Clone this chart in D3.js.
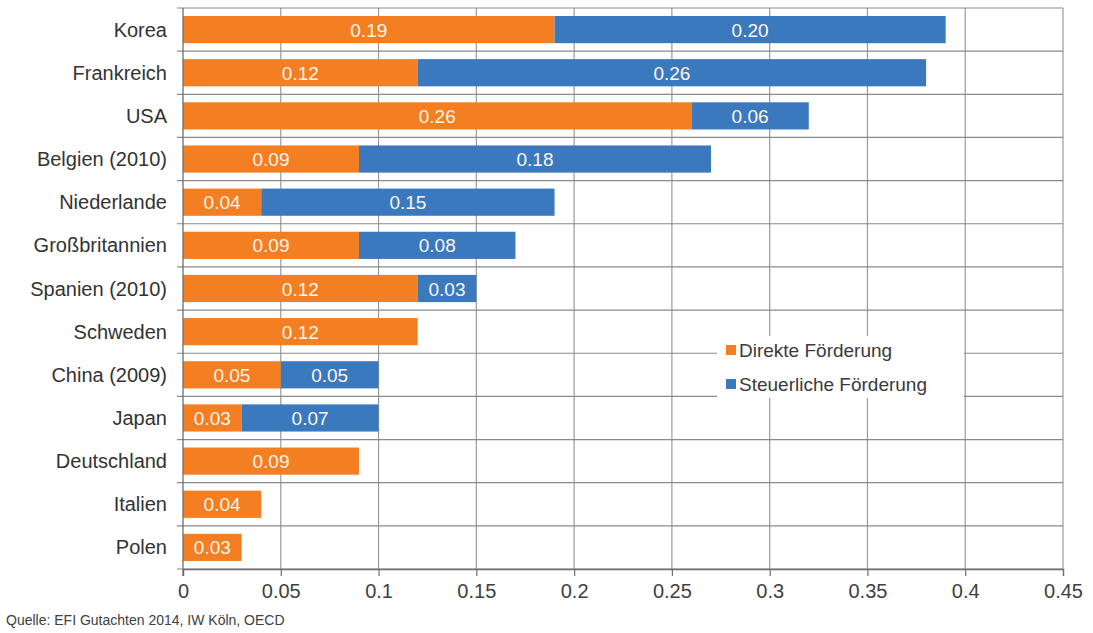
<!DOCTYPE html>
<html>
<head>
<meta charset="utf-8">
<script src="https://cdn.jsdelivr.net/npm/d3@7"></script>
<style>
  html, body { margin: 0; padding: 0; background: #ffffff; }
  svg { display: block; }
  text { font-family: "Liberation Sans", Arial, sans-serif; }
</style>
</head>
<body>
<svg id="chart" width="1093" height="633"></svg>
<script>
// Staatliche FuE-Förderung nach Ländern (direkt / steuerlich)
const countries = ["Korea", "Frankreich", "USA", "Belgien (2010)", "Niederlande", "Großbritannien",
  "Spanien (2010)", "Schweden", "China (2009)", "Japan", "Deutschland", "Italien", "Polen"];
const direkt = [0.19, 0.12, 0.26, 0.09, 0.04, 0.09, 0.12, 0.12, 0.05, 0.03, 0.09, 0.04, 0.03];
const steuerlich = [0.20, 0.26, 0.06, 0.18, 0.15, 0.08, 0.03, 0, 0.05, 0.07, 0, 0, 0];
const xTicks = [0, 0.05, 0.1, 0.15, 0.2, 0.25, 0.3, 0.35, 0.4, 0.45];
const seriesNames = ["Direkte Förderung", "Steuerliche Förderung"];
const colors = ["#f47e22", "#3b79be"];
const source = "Quelle: EFI Gutachten 2014, IW Köln, OECD";

const svg = d3.select("#chart");
const m = { left: 183, right: 1065, top: 8, bottom: 569 };

const x = d3.scaleLinear().domain([0, 0.45]).range([m.left, m.right - 2]);
const y = d3.scaleBand().domain(countries).range([m.top, m.bottom]).paddingInner(0.37).paddingOuter(0.185);
const yb = d3.scaleBand().domain(countries).range([m.top, m.bottom]);

// vertical grid lines
svg.append("g").selectAll("line").data(xTicks.slice(1)).join("line")
  .attr("x1", d => x(d)).attr("x2", d => x(d))
  .attr("y1", m.top).attr("y2", m.bottom)
  .attr("stroke", "#9a9a9a").attr("stroke-width", 1.2);

// horizontal category boundary lines
const bounds = countries.map(c => yb(c)).concat([m.bottom]);
svg.append("g").selectAll("line").data(bounds).join("line")
  .attr("x1", m.left - 6).attr("x2", x(0.45))
  .attr("y1", d => d).attr("y2", d => d)
  .attr("stroke", "#8a8a8a").attr("stroke-width", 1.2);

// stacked bars
const rows = countries.map((c, i) => ({ c, d: direkt[i], s: steuerlich[i] }));
const gBars = svg.append("g");
gBars.selectAll("rect.d").data(rows).join("rect").attr("class", "d")
  .attr("x", x(0)).attr("y", r => y(r.c))
  .attr("width", r => x(r.d) - x(0)).attr("height", y.bandwidth())
  .attr("fill", colors[0]);
gBars.selectAll("rect.s").data(rows.filter(r => r.s > 0)).join("rect").attr("class", "s")
  .attr("x", r => x(r.d)).attr("y", r => y(r.c))
  .attr("width", r => x(r.d + r.s) - x(r.d)).attr("height", y.bandwidth())
  .attr("fill", colors[1]);

// value labels
const fmt = d3.format(".2f");
const gLab = svg.append("g").attr("font-size", 19).attr("fill", "#fdf6ea").attr("text-anchor", "middle");
gLab.selectAll("text.d").data(rows).join("text")
  .attr("x", r => (x(0) + x(r.d)) / 2).attr("y", r => y(r.c) + y.bandwidth() / 2 + 7)
  .text(r => fmt(r.d));
gLab.selectAll("text.s").data(rows.filter(r => r.s > 0)).join("text")
  .attr("x", r => (x(r.d) + x(r.d + r.s)) / 2).attr("y", r => y(r.c) + y.bandwidth() / 2 + 7)
  .text(r => fmt(r.s));

// left axis line
svg.append("line").attr("x1", m.left).attr("x2", m.left).attr("y1", m.top).attr("y2", m.bottom + 7)
  .attr("stroke", "#6e6e6e").attr("stroke-width", 1.3);

// bottom axis
const xAxis = d3.axisBottom(x).tickValues(xTicks).tickSize(7).tickPadding(8)
  .tickFormat(d => d === 0 ? "0" : String(+d.toFixed(2)));
const gx = svg.append("g").attr("transform", `translate(0,${m.bottom})`).call(xAxis);
gx.select(".domain").attr("stroke", "#6e6e6e").attr("stroke-width", 1.3);
gx.selectAll(".tick line").attr("stroke", "#6e6e6e").attr("stroke-width", 1.2);
gx.selectAll(".tick text").attr("font-size", 20).attr("fill", "#404040")
  .attr("font-family", "'Liberation Sans', Arial, sans-serif");

// category labels
svg.append("g").attr("font-size", 20).attr("fill", "#333").attr("text-anchor", "end")
  .selectAll("text").data(countries).join("text")
  .attr("x", 167).attr("y", c => yb(c) + yb.bandwidth() / 2 + 7)
  .text(c => c);

// legend
const lg = svg.append("g");
lg.append("rect").attr("x", 717).attr("y", 336).attr("width", 247).attr("height", 62).attr("fill", "#ffffff");
seriesNames.forEach((n, i) => {
  const ly = 350 + i * 34;
  lg.append("rect").attr("x", 726).attr("y", ly - 5).attr("width", 10).attr("height", 10).attr("fill", colors[i]);
  lg.append("text").attr("x", 739).attr("y", ly + 7).attr("font-size", 19).attr("fill", "#3a3a3a").text(n);
});

// source note
svg.append("text").attr("x", 6).attr("y", 625).attr("font-size", 14).attr("fill", "#404040").text(source);
</script>
</body>
</html>
